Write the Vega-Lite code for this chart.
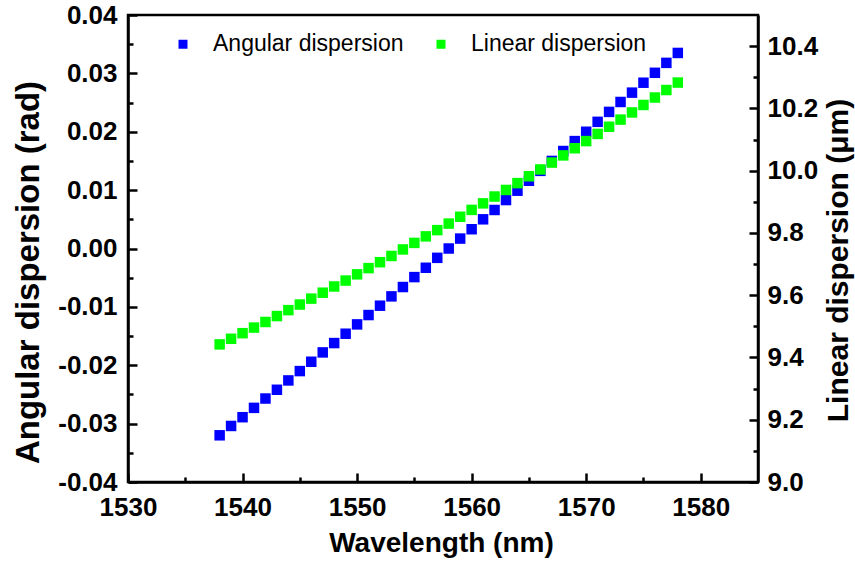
{
  "$schema": "https://vega.github.io/schema/vega-lite/v6.json",
  "width": 630,
  "height": 467,
  "autosize": {"type": "none"},
  "padding": {"left": 128, "top": 15, "right": 97, "bottom": 80},
  "background": "white",
  "config": {
    "view": {"stroke": "black", "strokeWidth": 2.5},
    "font": "Liberation Sans",
    "axis": {
      "grid": false,
      "domainColor": "black",
      "domainWidth": 2.5,
      "ticks": true,
      "tickColor": "black",
      "tickWidth": 2.5,
      "labelFont": "Liberation Sans",
      "labelFontWeight": "bold",
      "labelFontSize": 26,
      "labelColor": "black",
      "labelOverlap": false,
      "labelFlush": false,
      "titleFont": "Liberation Sans",
      "titleFontWeight": "bold",
      "titleColor": "black"
    }
  },
  "data": {
    "values": [
      {"wl": 1538, "s": "Angular dispersion", "v": -0.0320},
      {"wl": 1539, "s": "Angular dispersion", "v": -0.0304},
      {"wl": 1540, "s": "Angular dispersion", "v": -0.0289},
      {"wl": 1541, "s": "Angular dispersion", "v": -0.0273},
      {"wl": 1542, "s": "Angular dispersion", "v": -0.0257},
      {"wl": 1543, "s": "Angular dispersion", "v": -0.0242},
      {"wl": 1544, "s": "Angular dispersion", "v": -0.0226},
      {"wl": 1545, "s": "Angular dispersion", "v": -0.0210},
      {"wl": 1546, "s": "Angular dispersion", "v": -0.0194},
      {"wl": 1547, "s": "Angular dispersion", "v": -0.0178},
      {"wl": 1548, "s": "Angular dispersion", "v": -0.0162},
      {"wl": 1549, "s": "Angular dispersion", "v": -0.0146},
      {"wl": 1550, "s": "Angular dispersion", "v": -0.0130},
      {"wl": 1551, "s": "Angular dispersion", "v": -0.0114},
      {"wl": 1552, "s": "Angular dispersion", "v": -0.0098},
      {"wl": 1553, "s": "Angular dispersion", "v": -0.0082},
      {"wl": 1554, "s": "Angular dispersion", "v": -0.0066},
      {"wl": 1555, "s": "Angular dispersion", "v": -0.0049},
      {"wl": 1556, "s": "Angular dispersion", "v": -0.0033},
      {"wl": 1557, "s": "Angular dispersion", "v": -0.0016},
      {"wl": 1558, "s": "Angular dispersion", "v": 0.0000},
      {"wl": 1559, "s": "Angular dispersion", "v": 0.0017},
      {"wl": 1560, "s": "Angular dispersion", "v": 0.0033},
      {"wl": 1561, "s": "Angular dispersion", "v": 0.0050},
      {"wl": 1562, "s": "Angular dispersion", "v": 0.0066},
      {"wl": 1563, "s": "Angular dispersion", "v": 0.0083},
      {"wl": 1564, "s": "Angular dispersion", "v": 0.0099},
      {"wl": 1565, "s": "Angular dispersion", "v": 0.0116},
      {"wl": 1566, "s": "Angular dispersion", "v": 0.0133},
      {"wl": 1567, "s": "Angular dispersion", "v": 0.0150},
      {"wl": 1568, "s": "Angular dispersion", "v": 0.0167},
      {"wl": 1569, "s": "Angular dispersion", "v": 0.0184},
      {"wl": 1570, "s": "Angular dispersion", "v": 0.0200},
      {"wl": 1571, "s": "Angular dispersion", "v": 0.0217},
      {"wl": 1572, "s": "Angular dispersion", "v": 0.0234},
      {"wl": 1573, "s": "Angular dispersion", "v": 0.0251},
      {"wl": 1574, "s": "Angular dispersion", "v": 0.0267},
      {"wl": 1575, "s": "Angular dispersion", "v": 0.0284},
      {"wl": 1576, "s": "Angular dispersion", "v": 0.0301},
      {"wl": 1577, "s": "Angular dispersion", "v": 0.0318},
      {"wl": 1578, "s": "Angular dispersion", "v": 0.0335},
      {"wl": 1538, "s": "Linear dispersion", "v": 9.442},
      {"wl": 1539, "s": "Linear dispersion", "v": 9.460},
      {"wl": 1540, "s": "Linear dispersion", "v": 9.478},
      {"wl": 1541, "s": "Linear dispersion", "v": 9.496},
      {"wl": 1542, "s": "Linear dispersion", "v": 9.514},
      {"wl": 1543, "s": "Linear dispersion", "v": 9.533},
      {"wl": 1544, "s": "Linear dispersion", "v": 9.552},
      {"wl": 1545, "s": "Linear dispersion", "v": 9.570},
      {"wl": 1546, "s": "Linear dispersion", "v": 9.589},
      {"wl": 1547, "s": "Linear dispersion", "v": 9.608},
      {"wl": 1548, "s": "Linear dispersion", "v": 9.628},
      {"wl": 1549, "s": "Linear dispersion", "v": 9.647},
      {"wl": 1550, "s": "Linear dispersion", "v": 9.667},
      {"wl": 1551, "s": "Linear dispersion", "v": 9.687},
      {"wl": 1552, "s": "Linear dispersion", "v": 9.706},
      {"wl": 1553, "s": "Linear dispersion", "v": 9.726},
      {"wl": 1554, "s": "Linear dispersion", "v": 9.747},
      {"wl": 1555, "s": "Linear dispersion", "v": 9.768},
      {"wl": 1556, "s": "Linear dispersion", "v": 9.789},
      {"wl": 1557, "s": "Linear dispersion", "v": 9.809},
      {"wl": 1558, "s": "Linear dispersion", "v": 9.830},
      {"wl": 1559, "s": "Linear dispersion", "v": 9.852},
      {"wl": 1560, "s": "Linear dispersion", "v": 9.874},
      {"wl": 1561, "s": "Linear dispersion", "v": 9.895},
      {"wl": 1562, "s": "Linear dispersion", "v": 9.917},
      {"wl": 1563, "s": "Linear dispersion", "v": 9.938},
      {"wl": 1564, "s": "Linear dispersion", "v": 9.960},
      {"wl": 1565, "s": "Linear dispersion", "v": 9.982},
      {"wl": 1566, "s": "Linear dispersion", "v": 10.004},
      {"wl": 1567, "s": "Linear dispersion", "v": 10.026},
      {"wl": 1568, "s": "Linear dispersion", "v": 10.049},
      {"wl": 1569, "s": "Linear dispersion", "v": 10.072},
      {"wl": 1570, "s": "Linear dispersion", "v": 10.095},
      {"wl": 1571, "s": "Linear dispersion", "v": 10.118},
      {"wl": 1572, "s": "Linear dispersion", "v": 10.141},
      {"wl": 1573, "s": "Linear dispersion", "v": 10.164},
      {"wl": 1574, "s": "Linear dispersion", "v": 10.187},
      {"wl": 1575, "s": "Linear dispersion", "v": 10.211},
      {"wl": 1576, "s": "Linear dispersion", "v": 10.235},
      {"wl": 1577, "s": "Linear dispersion", "v": 10.259},
      {"wl": 1578, "s": "Linear dispersion", "v": 10.283}
    ]
  },
  "encoding": {
    "x": {
      "field": "wl",
      "type": "quantitative",
      "scale": {"domain": [1530, 1585], "nice": false, "zero": false},
      "axis": {
        "title": "Wavelength (nm)",
        "titleFontSize": 28,
        "values": [1530, 1535, 1540, 1545, 1550, 1555, 1560, 1565, 1570, 1575, 1580],
        "labelExpr": "datum.value % 10 === 0 ? format(datum.value, 'd') : ''",
        "tickSize": {"condition": {"test": "datum.value % 10 === 0", "value": -9}, "value": -5},
        "labelPadding": 21,
        "labelBaseline": "top",
        "titleX": 313,
        "titleY": 61,
        "titleAlign": "center",
        "titleBaseline": "middle"
      }
    },
    "color": {
      "field": "s",
      "type": "nominal",
      "scale": {"domain": ["Angular dispersion", "Linear dispersion"], "range": ["#0000ff", "#00ff00"]},
      "legend": {
        "orient": "none",
        "legendX": 43.5,
        "legendY": 17.5,
        "direction": "horizontal",
        "title": null,
        "padding": 0,
        "symbolType": "square",
        "symbolSize": 81,
        "symbolStrokeWidth": 0,
        "symbolOpacity": 1,
        "labelFont": "Liberation Sans",
        "labelFontSize": 23,
        "labelColor": "black",
        "labelOffset": 18.5,
        "columnPadding": 25,
        "labelLimit": 400
      }
    }
  },
  "layer": [
    {
      "transform": [{"filter": "datum.s === 'Angular dispersion'"}],
      "mark": {"type": "square", "size": 110, "opacity": 1, "filled": true},
      "encoding": {
        "y": {
          "field": "v",
          "type": "quantitative",
          "scale": {"domain": [-0.04, 0.04], "nice": false, "zero": false},
          "axis": {
            "orient": "left",
            "title": "Angular dispersion (rad)",
            "titleFontSize": 33,
            "values": [-0.04, -0.035, -0.03, -0.025, -0.02, -0.015, -0.01, -0.005, 0, 0.005, 0.01, 0.015, 0.02, 0.025, 0.03, 0.035, 0.04],
            "labelExpr": "round(datum.value * 200) % 2 === 0 ? replace(format(datum.value, '.2f'), '\u2212', '-') : ''",
            "tickSize": {"condition": {"test": "round(datum.value * 200) % 2 === 0", "value": -9}, "value": -5},
            "labelPadding": 20,
            "titleX": -100,
            "titleY": 257,
            "titleAngle": -90,
            "titleAlign": "center",
            "titleBaseline": "middle"
          }
        }
      }
    },
    {
      "transform": [{"filter": "datum.s === 'Linear dispersion'"}],
      "mark": {"type": "square", "size": 110, "opacity": 1, "filled": true},
      "encoding": {
        "y": {
          "field": "v",
          "type": "quantitative",
          "scale": {"domain": [9.0, 10.5], "nice": false, "zero": false},
          "axis": {
            "orient": "right",
            "title": "Linear dispersion (\u03bcm)",
            "titleFontSize": 30,
            "values": [9.0, 9.1, 9.2, 9.3, 9.4, 9.5, 9.6, 9.7, 9.8, 9.9, 10.0, 10.1, 10.2, 10.3, 10.4],
            "labelExpr": "round(datum.value * 10) % 2 === 0 ? format(datum.value, '.1f') : ''",
            "tickSize": {"condition": {"test": "round(datum.value * 10) % 2 === 0", "value": -9}, "value": -5},
            "labelPadding": 18,
            "titleX": 80,
            "titleY": 245,
            "titleAngle": -90,
            "titleAlign": "center",
            "titleBaseline": "middle"
          }
        }
      }
    }
  ],
  "resolve": {"scale": {"y": "independent"}, "axis": {"y": "independent"}}
}
